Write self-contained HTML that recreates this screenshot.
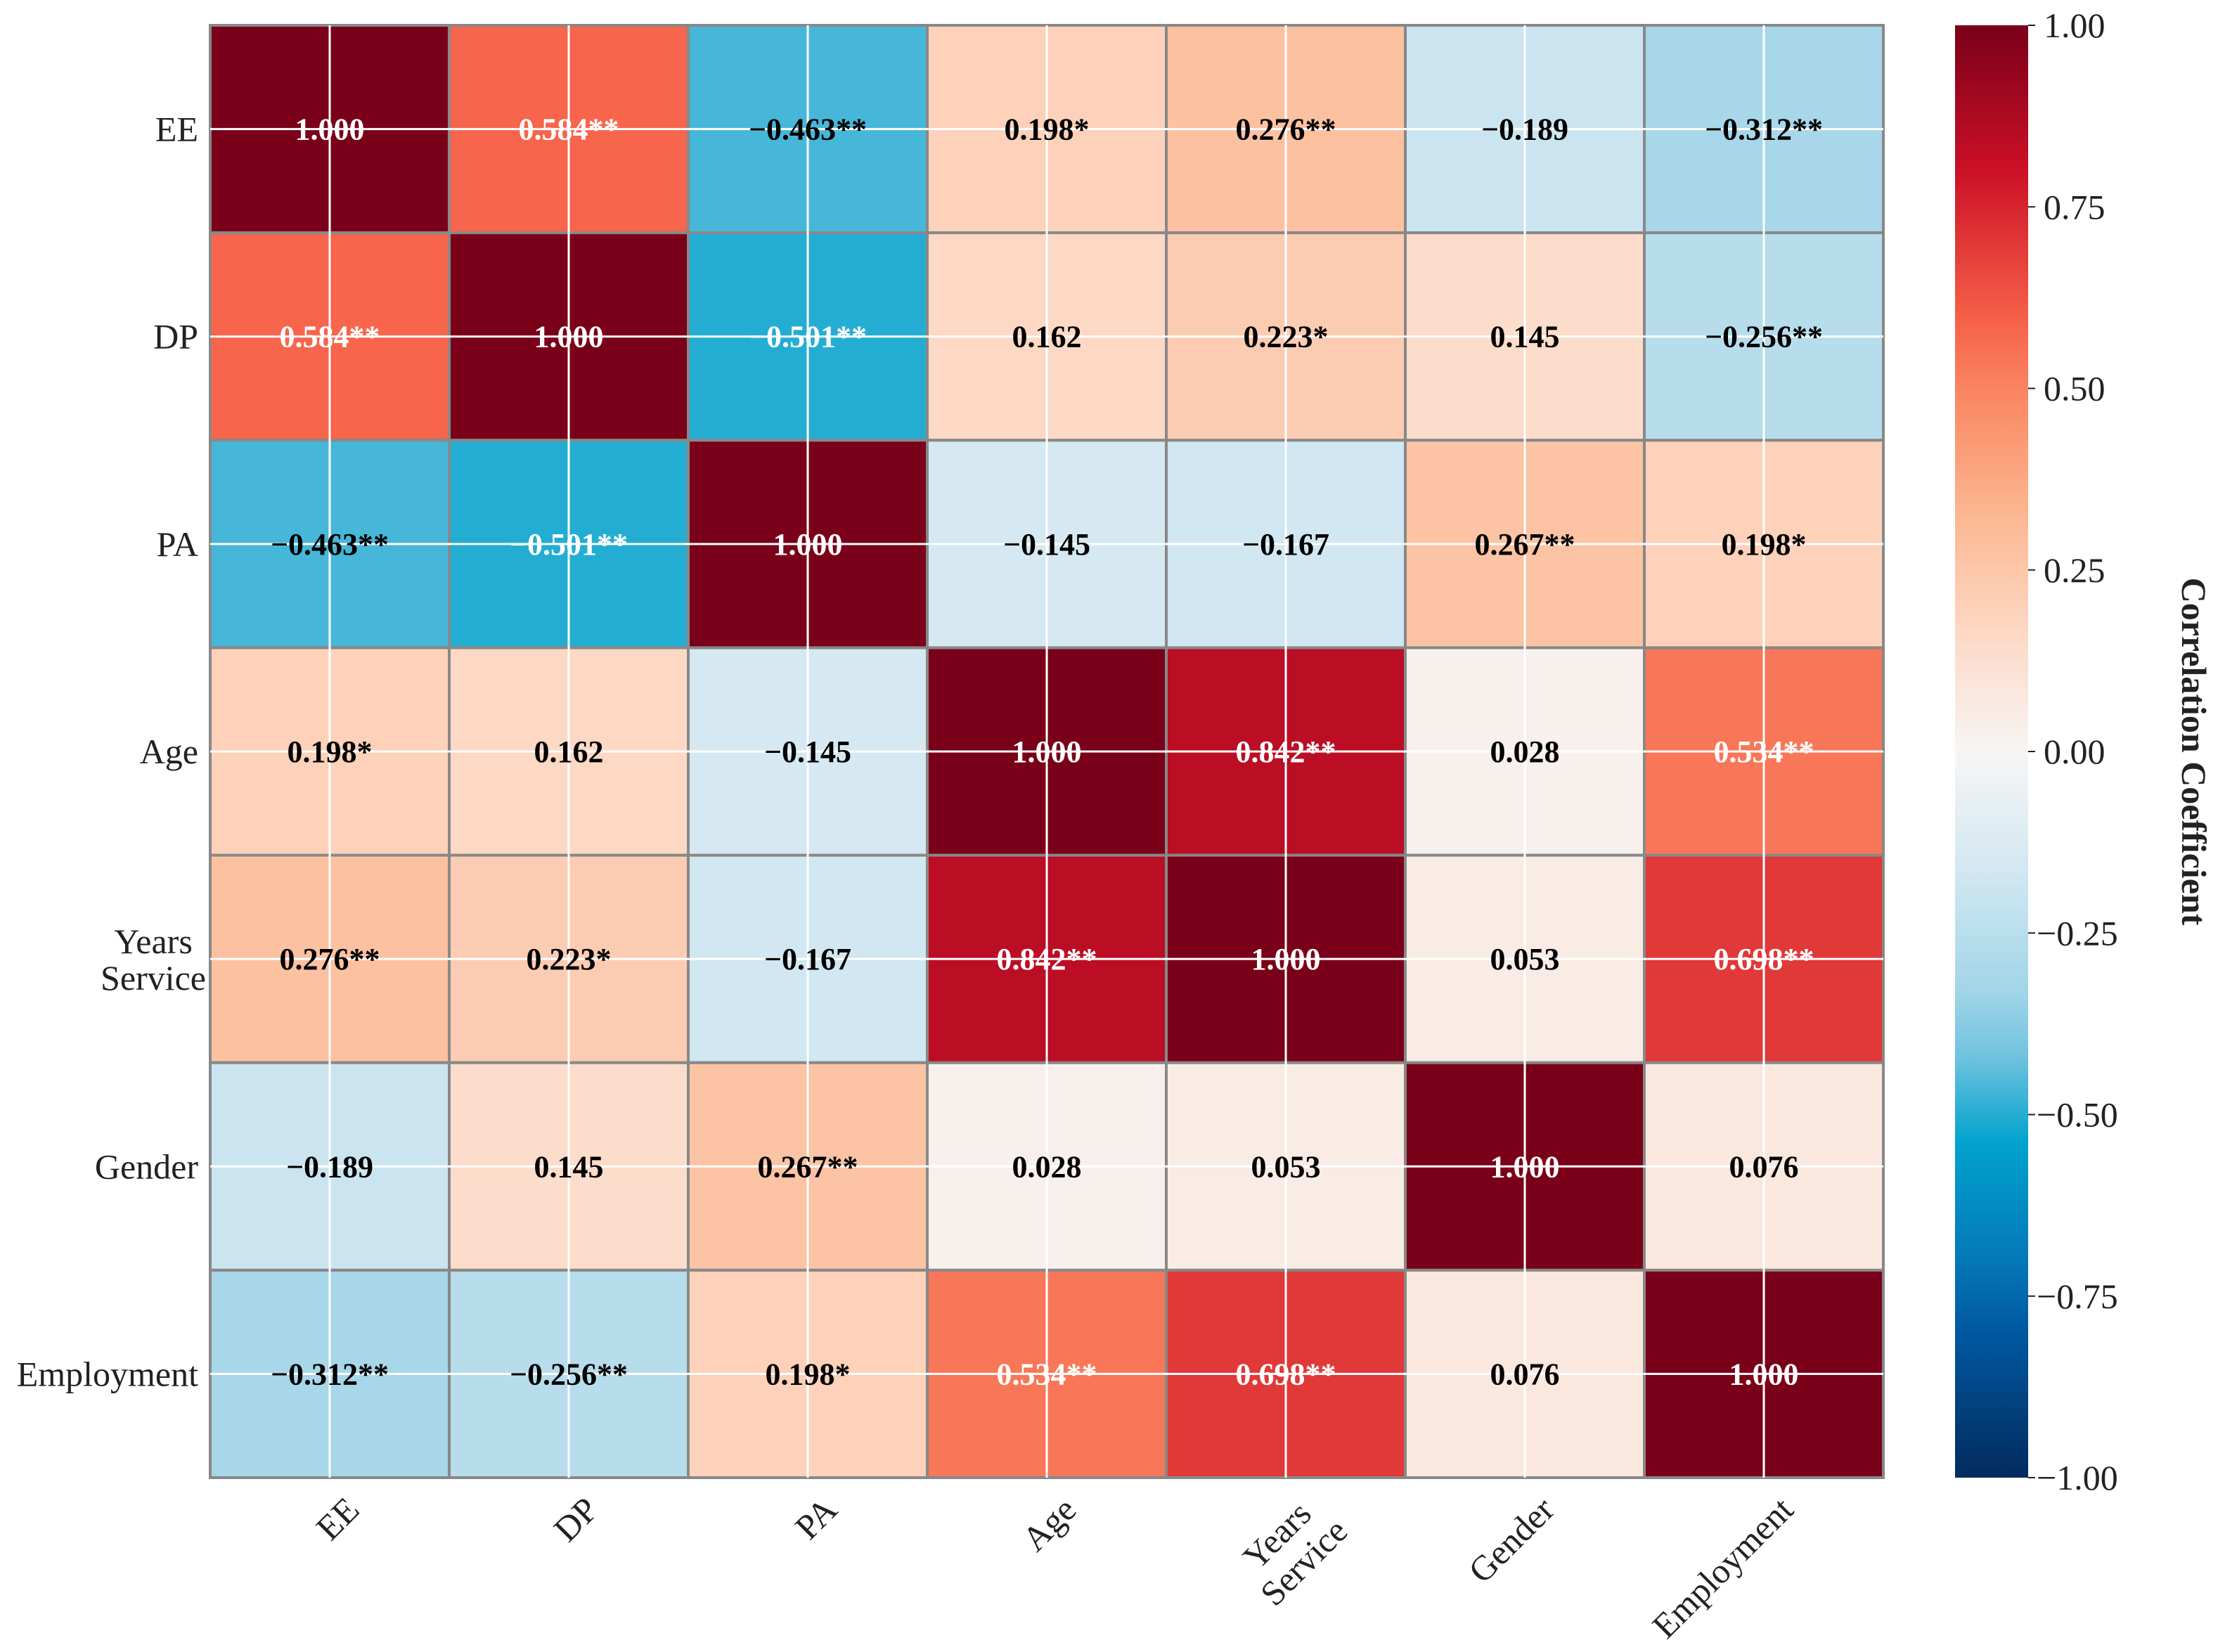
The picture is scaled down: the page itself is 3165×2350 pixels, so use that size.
<!DOCTYPE html>
<html><head><meta charset="utf-8"><style>
html,body{margin:0;padding:0;background:#fff;}
svg{display:block;}
text{font-family:"Liberation Serif","DejaVu Serif",serif;}
</style></head><body>
<svg id="chart" width="3165" height="2350" viewBox="0 0 3165 2350" xmlns="http://www.w3.org/2000/svg">
<defs><linearGradient id="cbgrad" x1="0" y1="0" x2="0" y2="1"></linearGradient></defs>
<g id="cells"></g>
<g id="grid"></g>
<g id="vals"></g>
<g id="ylab"></g>
<g id="xlab"></g>
<g id="cbar"></g>
</svg>
<script>
const categories = ["EE","DP","PA","Age","Years Service","Gender","Employment"];
const rowEE = [1.000,0.584,-0.463,0.198,0.276,-0.189,-0.312];
const rowDP = [0.584,1.000,-0.501,0.162,0.223,0.145,-0.256];
const rowPA = [-0.463,-0.501,1.000,-0.145,-0.167,0.267,0.198];
const rowAge = [0.198,0.162,-0.145,1.000,0.842,0.028,0.534];
const rowYears = [0.276,0.223,-0.167,0.842,1.000,0.053,0.698];
const rowGender = [-0.189,0.145,0.267,0.028,0.053,1.000,0.076];
const rowEmp = [-0.312,-0.256,0.198,0.534,0.698,0.076,1.000];
const stars = [
 ["","**","**","*","**","","**"],
 ["**","","**","","*","","**"],
 ["**","**","","","","**","*"],
 ["*","","","","**","","**"],
 ["**","*","","**","","","**"],
 ["","","**","","","",""],
 ["**","**","*","**","**","",""]];
const cbTicks = [1.00,0.75,0.50,0.25,0.00,-0.25,-0.50,-0.75,-1.00];
const matrix = [rowEE,rowDP,rowPA,rowAge,rowYears,rowGender,rowEmp];

const NS="http://www.w3.org/2000/svg";
const X0=299,X1=2679,Y0=36,Y1=2102;
const n=categories.length;
const cw=(X1-X0)/n, ch=(Y1-Y0)/n;
const xPos=i=>X0+(i+0.5)*cw, yPos=i=>Y0+(i+0.5)*ch;
const CBX=2781,CBW=104;
const cbY=v=>Y0+(1-v)/2*(Y1-Y0);
const cm=[[1,"#7a0019"],[0.8,"#cc1027"],[0.6,"#f55f48"],[0.5,"#fa8460"],[0.33,"#fbb690"],[0.16,"#fdd9c6"],[0,"#f7f5f4"],[-0.16,"#d3e8f2"],[-0.33,"#a2d5e8"],[-0.42,"#6fc3df"],[-0.54,"#00a2cd"],[-0.7,"#0478b8"],[-0.8,"#0158a0"],[-1,"#022b5e"]];
function hx(c){return [1,3,5].map(k=>parseInt(c.substr(k,2),16));}
function color(v){
 for(let k=0;k<cm.length-1;k++){const a=cm[k],b=cm[k+1];
  if(v<=a[0]&&v>=b[0]){const t=(a[0]-v)/(a[0]-b[0]);const A=hx(a[1]),B=hx(b[1]);
   return "rgb("+A.map((x,j)=>Math.round(x+(B[j]-x)*t)).join(",")+")";}}
 return v>0?cm[0][1]:cm[cm.length-1][1];}
function mk(tag,attrs,parent){const e=document.createElementNS(NS,tag);for(const k in attrs)e.setAttribute(k,attrs[k]);parent.appendChild(e);return e;}
const cells=document.getElementById('cells'),vals=document.getElementById('vals'),grid=document.getElementById('grid');
for(let r=0;r<n;r++)for(let c=0;c<n;c++){
 const v=matrix[r][c];
 const rc=mk('rect',{x:X0+c*cw,y:Y0+r*ch,width:cw,height:ch,fill:color(v),stroke:"#888888","stroke-width":4},cells);
 
 
}
for(let i=0;i<n;i++){
 const l1=mk('line',{x1:xPos(i),x2:xPos(i),y1:Y0,y2:Y1,stroke:"#fff","stroke-width":3},grid);
 
 
 const l2=mk('line',{x1:X0,x2:X1,y1:yPos(i),y2:yPos(i),stroke:"#fff","stroke-width":3},grid);
 
 
}
for(let r=0;r<n;r++)for(let c=0;c<n;c++){
 const v=matrix[r][c];
 const t=mk('text',{x:xPos(c),y:yPos(r)+15,"text-anchor":"middle","font-size":44,"font-weight":"bold",fill:Math.abs(v)>0.5?"#fff":"#000"},vals);
 t.textContent=(v<0?"\u2212":"")+Math.abs(v).toFixed(3)+stars[r][c];
 
 
}
const ylab=document.getElementById('ylab'),xlab=document.getElementById('xlab');
categories.forEach((name,i)=>{
 const parts=name.split(" ");
 const cy=yPos(i);
 if(parts.length==1){
  const t=mk('text',{x:282,y:cy+17,"text-anchor":"end","font-size":50,fill:"#222"},ylab);
  t.textContent=name;
  
  
 } else {
  parts.forEach((p,k)=>{
   const t=mk('text',{x:218,y:cy-8+k*52,"text-anchor":"middle","font-size":50,fill:"#222"},ylab);
   t.textContent=p;
   
   
  });
 }
 const ax=xPos(i)+22, ay=2128;
 const g=mk('g',{transform:"translate("+ax+","+ay+") rotate(-45)"},xlab);
 
 
 if(parts.length==1){
  const t=mk('text',{x:0,y:32,"text-anchor":"end","font-size":50,fill:"#222"},g);
  t.textContent=name;
 } else {
  parts.forEach((p,k)=>{
   const t=mk('text',{x:-64,y:32+k*54,"text-anchor":"middle","font-size":50,fill:"#222"},g);
   t.textContent=p;
  });
 }
});
const grad=document.getElementById('cbgrad');
cm.forEach(s=>{mk('stop',{offset:((1-s[0])/2*100)+"%","stop-color":s[1]},grad);});
const cbar=document.getElementById('cbar');
const cr=mk('rect',{x:CBX,y:Y0,width:CBW,height:Y1-Y0,fill:"url(#cbgrad)"},cbar);


cbTicks.forEach(v=>{
 const y=cbY(v);
 mk('line',{x1:CBX+CBW,x2:CBX+CBW+10,y1:y,y2:y,stroke:"#222","stroke-width":2},cbar);
 const t=mk('text',{x:CBX+CBW+(v<0?12:22),y:y+17,"font-size":50,fill:"#222"},cbar);
 t.textContent=(v<0?"\u2212":"")+Math.abs(v).toFixed(2);
 
 
});
const ct=mk('text',{x:3104,y:(Y0+Y1)/2,"text-anchor":"middle","font-size":50,"font-weight":"bold",fill:"#222",transform:"rotate(90 3104 "+((Y0+Y1)/2)+")"},cbar);
ct.textContent="Correlation Coefficient";


</script>
</body></html>
